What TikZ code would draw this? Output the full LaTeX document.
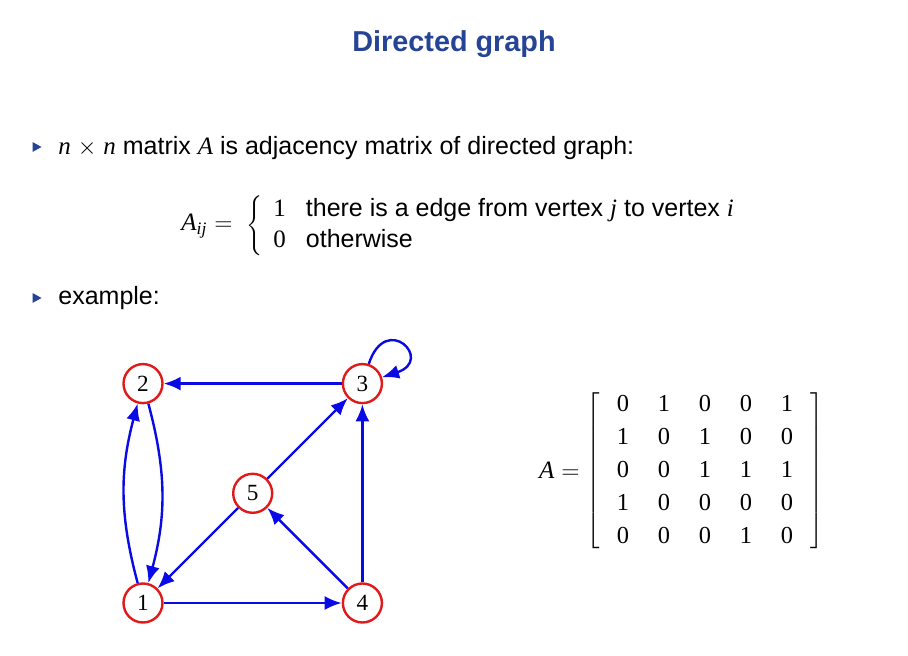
\documentclass[tikz,border=0pt]{standalone}
\usepackage{fontspec}
\setmainfont{Liberation Sans}
\newfontfamily\tms{Liberation Serif}
\usetikzlibrary{arrows.meta,positioning,matrix,calc}
\definecolor{structure}{RGB}{38,68,150}
\definecolor{arcblue}{RGB}{10,10,230}
\definecolor{vertexred}{RGB}{225,25,25}
\newcommand{\mvar}[1]{{\tms\itshape #1}}
\newcommand{\itemmark}[1]{\fill[structure] (#1) ++(-4.5,-5) -- ++(9,5) -- ++(-9,5) -- cycle;}
\tikzset{
	vertex/.style={
		circle, draw=vertexred, line width=1.2pt,
		minimum size=19.5pt, inner sep=0pt,
		font=\tms\fontsize{11.6}{13}\selectfont
	},
	arc/.style={draw=arcblue, line width=1.2pt, -{Latex[length=8.5pt,width=7pt]}},
	body/.style={font=\fontsize{12.5}{15}\selectfont, inner sep=0pt}
}
\begin{document}
\begin{tikzpicture}[x=0.5pt, y=-0.5pt, node distance=89pt]
	\useasboundingbox (0,0) rectangle (908,656);
	\node[anchor=base, text=structure, font=\bfseries\fontsize{14.4}{17}\selectfont] (title) at (454,52) {Directed graph};
	% first item with the definition
	\itemmark{37,147}
	\node[body, anchor=base west] (item1) at (58,155) {\mvar{n} $\times$ \mvar{n} matrix \mvar{A} is adjacency matrix of directed graph:};
	\matrix (cases) at (265,195) [matrix of nodes, matrix anchor=north west,
		inner xsep=4pt, inner ysep=0pt, left delimiter=\{,
		column sep=10pt, row sep=0.5pt,
		nodes={body, anchor=base west, text height=10.5pt, text depth=4.5pt}] {
		\tms 1 & there is a edge from vertex \mvar{j} to vertex \mvar{i} \\
		\tms 0 & otherwise \\
	};
	\node[body, left=16pt of cases] (Aij) {\mvar{A}\textsubscript{\mvar{ij}} $=$};
	% second item
	\itemmark{37,298}
	\node[body, anchor=base west] (item2) at (58,305) {example:};
	% the graph
	\node[vertex] (v1) at (143,603) {1};
	\node[vertex] (v4) [right=of v1] {4};
	\node[vertex] (v2) [above=of v1] {2};
	\node[vertex] (v3) [right=of v2] {3};
	\node[vertex] (v5) at ($(v1)!0.5!(v3)$) {5};
	\draw[arc] (v3) -- (v2);
	\draw[arc] (v1) to[bend left=15] (v2);
	\draw[arc] (v2) to[bend left=15] (v1);
	\draw[arc] (v5) -- (v3);
	\draw[arc] (v5) -- (v1);
	\draw[arc] (v4) -- (v5);
	\draw[arc] (v4) -- (v3);
	\draw[arc] (v1) -- (v4);
	\draw[arc] (v3) to[out=72, in=18, looseness=7.5] (v3);
	% adjacency matrix
	\matrix (adj) at (705,470.5) [matrix of nodes, inner sep=0pt,
		left delimiter={[}, right delimiter={]}, row sep=4.5pt, column sep=0pt,
		nodes={anchor=base, inner sep=0pt, font=\tms\fontsize{12.2}{14}\selectfont,
			text height=9.5pt, text depth=2.5pt, minimum width=20.5pt}] {
		0 & 1 & 0 & 0 & 1 \\
		1 & 0 & 1 & 0 & 0 \\
		0 & 0 & 1 & 1 & 1 \\
		1 & 0 & 0 & 0 & 0 \\
		0 & 0 & 0 & 1 & 0 \\
	};
	\node[body, left=11pt of adj] (Aeq) {\mvar{A} $=$};
\end{tikzpicture}
\end{document}
